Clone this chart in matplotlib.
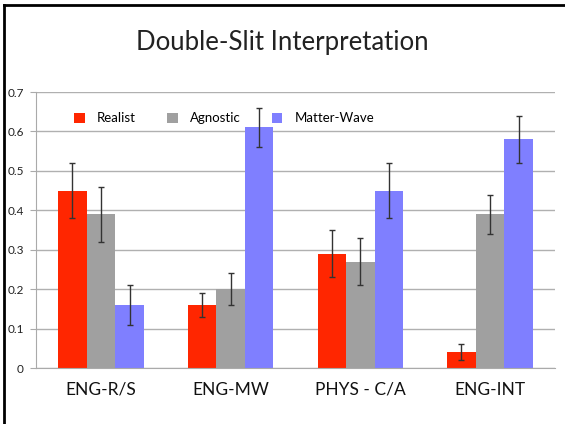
import matplotlib.pyplot as plt
import numpy as np
from matplotlib.lines import Line2D

plt.rcParams['font.family'] = ['Lato', 'DejaVu Sans']

groups = ['ENG-R/S', 'ENG-MW', 'PHYS - C/A', 'ENG-INT']
series = ['Realist', 'Agnostic', 'Matter-Wave']
realist = [0.45, 0.16, 0.29, 0.04]
agnostic = [0.39, 0.20, 0.27, 0.39]
matter_wave = [0.16, 0.61, 0.45, 0.58]
err_realist = [0.07, 0.03, 0.06, 0.02]
err_agnostic = [0.07, 0.04, 0.06, 0.05]
err_matter = [0.05, 0.05, 0.07, 0.06]

colors = ['#ff2600', '#a0a0a0', '#7f7fff']

fig = plt.figure(figsize=(5.65, 4.24), dpi=100)
ax = fig.add_axes([0.064, 0.132, 0.918, 0.651])

x = np.arange(len(groups))
w = 0.22
vals = [realist, agnostic, matter_wave]
errs = [err_realist, err_agnostic, err_matter]
for i in range(3):
    ax.bar(x + (i - 1) * w, vals[i], w, color=colors[i], label=series[i], zorder=2,
           yerr=errs[i], capsize=2.5,
           error_kw=dict(ecolor='#333333', elinewidth=1, capthick=1, zorder=3))

ax.set_xlim(-0.5, 3.5)
ax.set_ylim(0, 0.7)
ax.set_yticks(np.arange(0, 0.71, 0.1))
ax.set_yticklabels(['0', '0.1', '0.2', '0.3', '0.4', '0.5', '0.6', '0.7'], fontsize=8.5, color='#222222')
ax.set_xticks(x)
ax.set_xticklabels(groups, fontsize=12.5, color='#111111')
ax.tick_params(axis='x', length=0, pad=10)
ax.tick_params(axis='y', length=4, color='#aaaaaa', pad=5)
ax.grid(axis='y', color='#b0b0b0', linewidth=1, zorder=0)
for s in ['top', 'right']:
    ax.spines[s].set_visible(False)
ax.spines['left'].set_color('#aaaaaa')
ax.spines['bottom'].set_color('#aaaaaa')

ax.legend(loc='upper left', bbox_to_anchor=(0.05, 0.97), ncol=3, frameon=False,
          fontsize=9.5, handlelength=0.8, handleheight=0.8, columnspacing=2.4,
          handletextpad=0.9)

fig.text(0.5, 0.9, 'Double-Slit Interpretation', ha='center', va='center', fontsize=18.5, color='#222222')

# slide border
fig.add_artist(Line2D([0.007, 0.007], [0, 0.988], transform=fig.transFigure, color='black', linewidth=2))
fig.add_artist(Line2D([0.007, 1.0], [0.988, 0.988], transform=fig.transFigure, color='black', linewidth=2))

fig.savefig('out.png', dpi=100)
